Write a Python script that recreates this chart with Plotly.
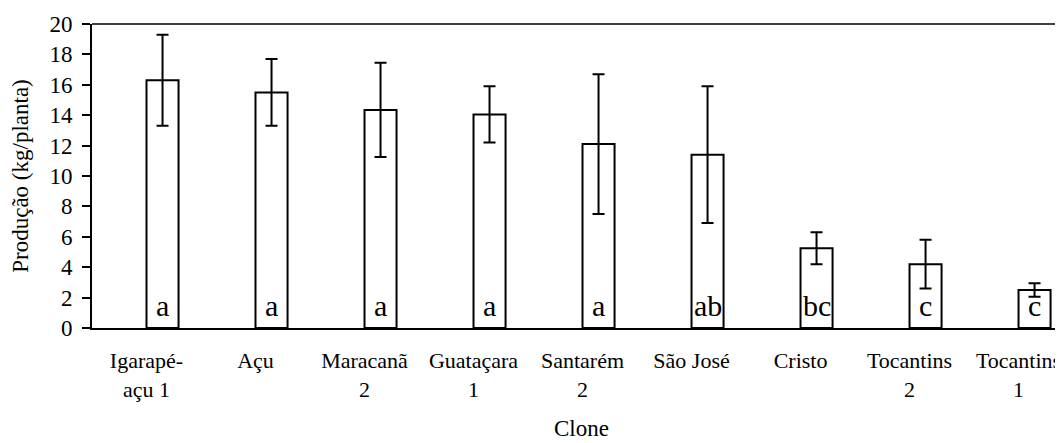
import plotly.graph_objects as go

clones = ["Igarapé-<br>açu 1", "Açu", "Maracanã<br>2", "Guataçara<br>1", "Santarém<br>2",
          "São José", "Cristo", "Tocantins<br>2", "Tocantins<br>1"]
producao = [16.3, 15.5, 14.35, 14.05, 12.1, 11.4, 5.25, 4.2, 2.5]
erro = [3.0, 2.2, 3.1, 1.85, 4.6, 4.5, 1.05, 1.6, 0.45]
letras = ["a", "a", "a", "a", "a", "ab", "bc", "c", "c"]

FONT = "Liberation Serif"
BAR_W = 0.294

fig = go.Figure()
fig.add_trace(go.Bar(
    x=clones, y=producao, width=BAR_W, offset=0,
    marker=dict(color="white", line=dict(color="black", width=2)),
    error_y=dict(type="data", array=erro, visible=True, color="black", thickness=2, width=6),
    showlegend=False,
))

for c, l in zip(clones, letras):
    fig.add_annotation(x=c, y=0, text=l, showarrow=False, xref="x", yref="y",
                       yanchor="bottom", xshift=16, yshift=4,
                       font=dict(family=FONT, size=30, color="black"))

fig.add_annotation(x=0.5046, y=-0.332, xref="paper", yref="paper", text="Clone",
                   showarrow=False, yanchor="middle",
                   font=dict(family=FONT, size=23, color="black"))

fig.add_shape(type="line", xref="paper", yref="paper", x0=0, x1=1, y0=1, y1=1,
              line=dict(color="black", width=1.5))

fig.update_layout(
    width=1055, height=435,
    margin=dict(l=84, r=0, t=16, b=115),
    plot_bgcolor="white", paper_bgcolor="white",
    font=dict(family=FONT, color="black"),
    xaxis=dict(range=[-0.5, 8.408], showline=True, linecolor="black", linewidth=2,
               ticks="", showgrid=False, tickfont=dict(size=22), ticklabelstandoff=12,
               automargin=False),
    yaxis=dict(range=[0, 20], dtick=2, showline=True, linecolor="black", linewidth=2,
               ticks="outside", ticklen=8, tickwidth=1.5, tickcolor="black",
               showgrid=False, zeroline=False, tickfont=dict(size=23), automargin=False,
               ticklabelstandoff=5,
               title=dict(text="Produção (kg/planta)", font=dict(size=23), standoff=14)),
)

fig.write_html("out.html")
